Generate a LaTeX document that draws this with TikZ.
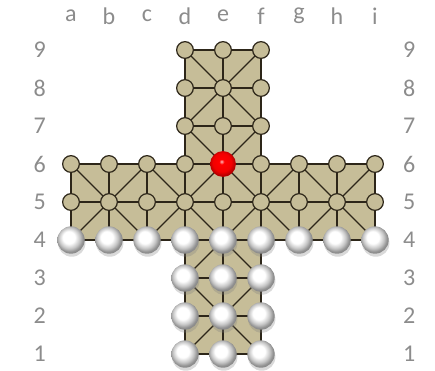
\documentclass[tikz,border=0pt]{standalone}
\usepackage{fontspec}
\setmainfont{Carlito}
\usetikzlibrary{shadows}
\definecolor{boardtan}{RGB}{198,189,152}
\definecolor{boardline}{RGB}{45,38,25}
\definecolor{labelgray}{RGB}{140,140,140}
\pgfdeclareradialshading{whiteglass}{\pgfpoint{-5bp}{6bp}}{%
  color(0bp)=(white); color(11bp)=(white); color(19bp)=(black!22);
  color(25bp)=(black!45); color(50bp)=(black!45)}
\pgfdeclareradialshading{redglass}{\pgfpoint{-3bp}{5bp}}{%
  color(0bp)=(red!25); color(5bp)=(red); color(18bp)=(red!95!black);
  color(25bp)=(red!70!black); color(50bp)=(red!70!black)}
\tikzset{
  hole/.style={circle,draw=boardline,fill=boardtan,line width=0.9pt,minimum size=0.44cm,inner sep=0pt},
  whiteball/.style={circle,shading=whiteglass,minimum size=0.72cm,inner sep=0pt,
    drop shadow={opacity=0.3,shadow xshift=0.02cm,shadow yshift=-0.08cm}},
  redball/.style={circle,shading=redglass,minimum size=0.68cm,inner sep=0pt},
  coordlabel/.style={text=labelgray,font=\fontsize{18}{18}\selectfont}
}
\begin{document}
\begin{tikzpicture}
\useasboundingbox (-0.868,0.579) rectangle (10.579,10.316);
% board points
\foreach \x in {1,...,9} \foreach \y in {4,5,6} \coordinate (p-\x-\y) at (\x,\y);
\foreach \x in {4,5,6} \foreach \y in {1,...,9} \coordinate (p-\x-\y) at (\x,\y);
% cross
\fill[boardtan] (p-1-4) -- (p-4-4) -- (p-4-1) -- (p-6-1) -- (p-6-4) -- (p-9-4) -- (p-9-6)
  -- (p-6-6) -- (p-6-9) -- (p-4-9) -- (p-4-6) -- (p-1-6) -- cycle;
\begin{scope}[draw=boardline,line width=0.9pt]
\foreach \y in {4,5,6} \draw (p-1-\y) -- (p-9-\y);
\foreach \y in {1,2,3,7,8,9} \draw (p-4-\y) -- (p-6-\y);
\foreach \x in {1,2,3,7,8,9} \draw (p-\x-4) -- (p-\x-6);
\foreach \x in {4,5,6} \draw (p-\x-1) -- (p-\x-9);
% diagonals
\foreach \x/\y in {1/4,2/4,3/4,4/4,5/4,6/4,7/4,8/4,1/5,2/5,3/5,4/5,5/5,6/5,7/5,8/5,
                   4/1,5/1,4/2,5/2,4/3,5/3,4/6,5/6,4/7,5/7,4/8,5/8} {
  \pgfmathtruncatemacro\nx{\x+1}
  \pgfmathtruncatemacro\ny{\y+1}
  \pgfmathtruncatemacro\odd{mod(\x+\y,2)}
  \ifnum\odd=1
    \draw (p-\x-\y) -- (p-\nx-\ny);
  \else
    \draw (p-\nx-\y) -- (p-\x-\ny);
  \fi
}
\end{scope}
% empty points
\foreach \x in {1,2,3,4,6,7,8,9} \node[hole] (h-\x-6) at (p-\x-6) {};
\foreach \x in {1,...,9} \node[hole] (h-\x-5) at (p-\x-5) {};
\foreach \x in {4,5,6} \foreach \y in {7,8,9} \node[hole] (h-\x-\y) at (p-\x-\y) {};
% pieces
\node[redball] (red) at (p-5-6) {};
\foreach \x in {1,...,9} \node[whiteball] (w-\x-4) at (p-\x-4) {};
\foreach \y in {3,2,1} \foreach \x in {4,5,6} \node[whiteball] (w-\x-\y) at (p-\x-\y) {};
% labels
\foreach \l [count=\i] in {a,b,c,d,e,f,g,h,i}
  \node[coordlabel] (col-\l) at (\i,9.9) {\l};
\foreach \r in {1,...,9} {
  \node[coordlabel] (left-\r) at (0.18,\r) {\r};
  \node[coordlabel] (right-\r) at (9.9,\r) {\r};
}
\end{tikzpicture}
\end{document}
